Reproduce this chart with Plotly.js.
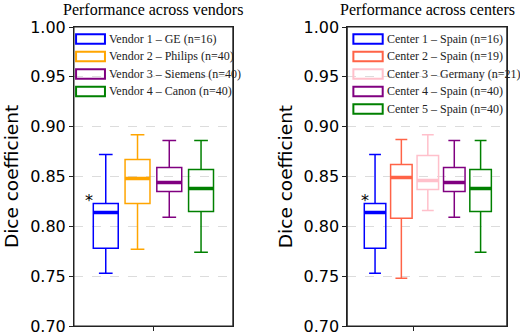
<!DOCTYPE html>
<html>
<head>
<meta charset="utf-8">
<script src="https://cdn.plot.ly/plotly-3.0.1.min.js"></script>
<style>
  html, body { margin: 0; padding: 0; background: #fff; }
  #myDiv { width: 520px; height: 334px; }
</style>
</head>
<body>
<div id="myDiv"></div>
<script>
// vendors panel
var vendorLabels = ['Vendor 1 \u2013 GE (n=16)', 'Vendor 2 \u2013 Philips (n=40)', 'Vendor 3 \u2013 Siemens (n=40)', 'Vendor 4 \u2013 Canon (n=40)'];
var vendorColors = ['#0000ff', '#ffa500', '#800080', '#008000'];
var vendorPos = [0.7, 0.9, 1.1, 1.3];
var vendorLower = [0.753, 0.777, 0.809, 0.774];
var vendorQ1 = [0.778, 0.823, 0.835, 0.815];
var vendorMedian = [0.814, 0.848, 0.844, 0.838];
var vendorQ3 = [0.823, 0.867, 0.859, 0.857];
var vendorUpper = [0.872, 0.892, 0.886, 0.886];

// centers panel
var centerLabels = ['Center 1 \u2013 Spain (n=16)', 'Center 2 \u2013 Spain (n=19)', 'Center 3 \u2013 Germany (n=21)', 'Center 4 \u2013 Spain (n=40)', 'Center 5 \u2013 Spain (n=40)'];
var centerColors = ['#0000ff', '#ff6347', '#ffc0cb', '#800080', '#008000'];
var centerPos = [0.674, 0.839, 1.005, 1.171, 1.336];
var centerLower = [0.753, 0.748, 0.816, 0.809, 0.774];
var centerQ1 = [0.778, 0.808, 0.837, 0.835, 0.815];
var centerMedian = [0.814, 0.849, 0.846, 0.844, 0.838];
var centerQ3 = [0.823, 0.862, 0.871, 0.859, 0.857];
var centerUpper = [0.872, 0.887, 0.892, 0.886, 0.886];

var data = [];
var shapes = [];
var annotations = [];

function addPanel(xa, ya, pos, lo, q1, med, q3, hi, colors, labels, boxWidth, legX0, legX1, legTop) {
  for (var i = 0; i < pos.length; i++) {
    data.push({
      type: 'box', xaxis: xa, yaxis: ya,
      x: [pos[i]], q1: [q1[i]], median: [med[i]], q3: [q3[i]],
      lowerfence: [lo[i]], upperfence: [hi[i]],
      width: boxWidth, whiskerwidth: 0.55, boxpoints: false,
      fillcolor: 'rgba(0,0,0,0)',
      line: {color: colors[i], width: 1.5},
      showlegend: false, hoverinfo: 'skip'
    });
    // thick median line
    data.push({
      type: 'box', xaxis: xa, yaxis: ya,
      x: [pos[i]], q1: [med[i]], median: [med[i]], q3: [med[i]],
      lowerfence: [med[i]], upperfence: [med[i]],
      width: boxWidth, whiskerwidth: 0, boxpoints: false,
      fillcolor: 'rgba(0,0,0,0)',
      line: {color: colors[i], width: 3.5},
      showlegend: false, hoverinfo: 'skip'
    });
    // legend entry
    var yc = legTop - i * 0.0585;
    shapes.push({
      type: 'rect', xref: xa + ' domain', yref: ya + ' domain',
      x0: legX0, x1: legX1, y0: yc - 0.016, y1: yc + 0.016,
      line: {color: colors[i], width: 2}, fillcolor: 'rgba(0,0,0,0)'
    });
    annotations.push({
      xref: xa + ' domain', yref: ya + ' domain',
      x: legX1 + 0.012, y: yc, xanchor: 'left', yanchor: 'middle',
      text: labels[i], showarrow: false,
      font: {family: 'Liberation Serif, Times New Roman, serif', size: 12, color: '#222'}
    });
  }
  // axes frame
  shapes.push({
    type: 'rect', xref: xa + ' domain', yref: ya + ' domain',
    x0: 0, x1: 1, y0: 0, y1: 1, layer: 'above',
    line: {color: '#222', width: 1}, fillcolor: 'rgba(0,0,0,0)'
  });
}

addPanel('x', 'y', vendorPos, vendorLower, vendorQ1, vendorMedian, vendorQ3, vendorUpper,
  vendorColors, vendorLabels, 0.157, 0.013, 0.195, 0.96);
addPanel('x2', 'y2', centerPos, centerLower, centerQ1, centerMedian, centerQ3, centerUpper,
  centerColors, centerLabels, 0.135, 0.038, 0.222, 0.96);

// significance star next to the first box
annotations.push({xref: 'x', yref: 'y', x: vendorPos[0] - 0.157 / 2, y: vendorQ3[0],
  xanchor: 'right', yanchor: 'bottom', xshift: 2, yshift: -9, text: '*', showarrow: false,
  font: {family: 'DejaVu Sans', size: 16, color: '#000'}});
annotations.push({xref: 'x2', yref: 'y2', x: centerPos[0] - 0.135 / 2, y: centerQ3[0],
  xanchor: 'center', yanchor: 'bottom', xshift: 1, yshift: -9, text: '*', showarrow: false,
  font: {family: 'DejaVu Sans', size: 16, color: '#000'}});

// panel titles
annotations.push({xref: 'x domain', yref: 'y domain', x: 0.5, y: 1.057, xanchor: 'center', yanchor: 'middle',
  text: 'Performance across vendors', showarrow: false,
  font: {family: 'Liberation Serif, Times New Roman, serif', size: 16, color: '#000'}});
annotations.push({xref: 'x2 domain', yref: 'y2 domain', x: 0.5, y: 1.057, xanchor: 'center', yanchor: 'middle',
  text: 'Performance across centers', showarrow: false,
  font: {family: 'Liberation Serif, Times New Roman, serif', size: 16, color: '#000'}});

var yAxis = {
  range: [0.70, 1.00], dtick: 0.05, tick0: 0.70, tickformat: '.2f',
  showgrid: true, gridcolor: '#dcdcdc', griddash: 'dash', gridwidth: 1,
  zeroline: false, showline: true, mirror: true, linecolor: '#222', linewidth: 1,
  ticks: 'outside', ticklen: 4, tickcolor: '#222', ticklabeloverflow: 'allow',
  tickfont: {family: 'DejaVu Sans', size: 16, color: '#000'},
  title: {text: 'Dice coefficient', font: {family: 'DejaVu Sans', size: 18.5, color: '#000'}, standoff: 6}
};

function xAxis(domain, tick) {
  return {
    domain: domain, range: [0.5, 1.5], showgrid: false, zeroline: false,
    showline: true, mirror: true, linecolor: '#222', linewidth: 1,
    tickvals: [tick], ticktext: [''], ticks: 'outside', ticklen: 4, tickcolor: '#222'
  };
}

var yAxis2 = JSON.parse(JSON.stringify(yAxis));
yAxis2.anchor = 'x2';
var yAxis1 = JSON.parse(JSON.stringify(yAxis));
yAxis1.anchor = 'x';

var xa1 = xAxis([0.1423, 0.4477], 1.0); xa1.anchor = 'y';
var xa2 = xAxis([0.6679, 0.9745], 0.918); xa2.anchor = 'y2';

var layout = {
  width: 520, height: 334,
  margin: {l: 0, r: 0, t: 27, b: 8},
  paper_bgcolor: '#fff', plot_bgcolor: '#fff',
  showlegend: false, boxmode: 'overlay',
  xaxis: xa1, yaxis: yAxis1,
  xaxis2: xa2, yaxis2: yAxis2,
  shapes: shapes, annotations: annotations
};

Plotly.newPlot('myDiv', data, layout, {displayModeBar: false, staticPlot: true});
</script>
</body>
</html>
